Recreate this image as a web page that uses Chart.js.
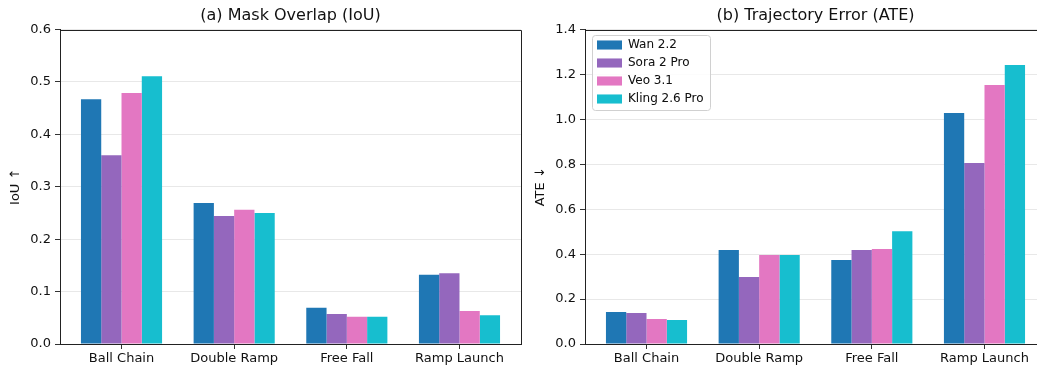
<!DOCTYPE html>
<html>
<head>
<meta charset="utf-8">
<script src="https://cdn.jsdelivr.net/npm/chart.js@4.4.1/dist/chart.umd.min.js"></script>
<style>
  html, body { margin: 0; padding: 0; background: #fff; width: 1037px; height: 366px; overflow: hidden; }
  #wrap { position: relative; width: 1037px; height: 366px; overflow: hidden; }
  canvas { position: absolute; top: 0; }
  #iouChart { left: 0; }
  #ateChart { left: 525px; }
</style>
</head>
<body>
<div id="wrap">
<canvas id="iouChart" width="525" height="366"></canvas>
<canvas id="ateChart" width="525" height="366"></canvas>
</div>
<script>
// Scenarios on the x axis and the four video models
const categories = ['Ball Chain', 'Double Ramp', 'Free Fall', 'Ramp Launch'];
const models = ['Wan 2.2', 'Sora 2 Pro', 'Veo 3.1', 'Kling 2.6 Pro'];
const modelColors = ['#1f77b4', '#9467bd', '#e377c2', '#17becf'];

// (a) Mask overlap, IoU (higher is better)
const iouWan = [0.467, 0.269, 0.069, 0.132];
const iouSora = [0.360, 0.244, 0.057, 0.135];
const iouVeo = [0.479, 0.256, 0.052, 0.063];
const iouKling = [0.511, 0.250, 0.052, 0.055];

// (b) Trajectory error, ATE (lower is better)
const ateWan = [0.142, 0.418, 0.374, 1.028];
const ateSora = [0.138, 0.298, 0.418, 0.806];
const ateVeo = [0.111, 0.396, 0.423, 1.153];
const ateKling = [0.107, 0.396, 0.502, 1.242];

const iouTicks = [0, 0.1, 0.2, 0.3, 0.4, 0.5, 0.6];
const ateTicks = [0, 0.2, 0.4, 0.6, 0.8, 1.0, 1.2, 1.4];

Chart.defaults.font.family = "'DejaVu Sans', sans-serif";
Chart.defaults.color = '#111';

// Turn one series into {x, y} points on a numeric category axis
function toPoints(values) {
    return values.map((v, i) => ({ x: i, y: v }));
}

function buildDatasets(seriesList) {
    return models.map((name, k) => ({
        label: name,
        data: toPoints(seriesList[k]),
        backgroundColor: modelColors[k],
        borderWidth: 0,
        categoryPercentage: 0.72,
        barPercentage: 1.0
    }));
}

// Top and right spines, plus the legend frame drawn over the grid
const framePlugin = {
    id: 'frame',
    afterLayout(chart) {
        const legend = chart.legend;
        if (legend && legend.options.display) {
            legend.left = chart.chartArea.left + 6;
            legend.top = chart.chartArea.top + 3.5;
        }
    },
    afterDraw(chart) {
        const ctx = chart.ctx;
        const a = chart.chartArea;
        const l = Math.round(a.left) + 0.5, r = Math.round(a.right) + 0.5;
        const t = Math.round(a.top) + 0.5, b = Math.round(a.bottom) + 0.5;
        ctx.save();
        ctx.strokeStyle = '#222';
        ctx.lineWidth = 1;
        ctx.beginPath();
        ctx.moveTo(l, t); ctx.lineTo(r, t); ctx.lineTo(r, b);
        ctx.stroke();

        const legend = chart.legend;
        if (legend && legend.options.display && legend.legendHitBoxes.length) {
            const hb = legend.legendHitBoxes;
            const x0 = Math.min(...hb.map(h => h.left)) - 5;
            const y0 = Math.min(...hb.map(h => h.top)) - 4;
            const x1 = Math.max(...hb.map(h => h.left + h.width)) + 6;
            const y1 = Math.max(...hb.map(h => h.top + h.height)) + 5;
            ctx.beginPath();
            ctx.roundRect(Math.round(x0) + 0.5, Math.round(y0) + 0.5, Math.round(x1 - x0), Math.round(y1 - y0), 3);
            ctx.fillStyle = 'rgba(255,255,255,0.85)';
            ctx.fill();
            ctx.strokeStyle = '#d0d0d0';
            ctx.stroke();
            ctx.restore();
            legend.draw();
            return;
        }
        ctx.restore();
    }
};

function createBarPanel(canvasId, titleText, yTitle, seriesList, tickValues, showLegend) {
    const ctx = document.getElementById(canvasId);
    const yMax = tickValues[tickValues.length - 1];

    return new Chart(ctx, {
        type: 'bar',
        data: {
            datasets: buildDatasets(seriesList)
        },
        plugins: [framePlugin],
        options: {
            responsive: false,
            animation: false,
            layout: {
                padding: { left: 0, right: 4, top: 0, bottom: 0 }
            },
            scales: {
                x: {
                    type: 'linear',
                    min: -0.546,
                    max: 3.546,
                    offset: false,
                    afterFit: (scale) => { scale.height = 22; },
                    border: { color: '#222', width: 1 },
                    grid: {
                        drawOnChartArea: false,
                        offset: false,
                        tickLength: 5,
                        tickColor: '#333',
                        tickWidth: 1
                    },
                    ticks: {
                        stepSize: 1,
                        includeBounds: false,
                        autoSkip: false,
                        maxRotation: 0,
                        padding: 2,
                        color: '#111',
                        font: { size: 13 },
                        callback: (value) => categories[value]
                    }
                },
                y: {
                    min: 0,
                    max: yMax,
                    afterFit: (scale) => { scale.width = 60; },
                    afterBuildTicks: (scale) => {
                        scale.ticks = tickValues.map(v => ({ value: v }));
                    },
                    border: { color: '#222', width: 1 },
                    grid: {
                        color: '#e8e8e8',
                        lineWidth: 1,
                        tickLength: 5,
                        tickColor: '#333',
                        tickWidth: 1
                    },
                    ticks: {
                        padding: 4,
                        color: '#111',
                        font: { size: 13 },
                        callback: (value) => value.toFixed(1)
                    },
                    title: {
                        display: true,
                        text: yTitle,
                        color: '#111',
                        font: { size: 13 },
                        padding: { top: 8, bottom: 0 }
                    }
                }
            },
            plugins: {
                title: {
                    display: true,
                    text: titleText,
                    fullSize: false,
                    color: '#111',
                    font: { size: 16, weight: 'normal' },
                    padding: { top: 6, bottom: 4.3 }
                },
                legend: {
                    display: showLegend,
                    position: 'chartArea',
                    align: 'start',
                    labels: {
                        boxWidth: 25,
                        boxHeight: 9,
                        padding: 6,
                        color: '#111',
                        font: { size: 12 }
                    }
                },
                tooltip: { enabled: false }
            }
        }
    });
}

createBarPanel('iouChart', '(a) Mask Overlap (IoU)', 'IoU \u2191',
    [iouWan, iouSora, iouVeo, iouKling], iouTicks, false);

createBarPanel('ateChart', '(b) Trajectory Error (ATE)', 'ATE \u2193',
    [ateWan, ateSora, ateVeo, ateKling], ateTicks, true);
</script>
</body>
</html>
